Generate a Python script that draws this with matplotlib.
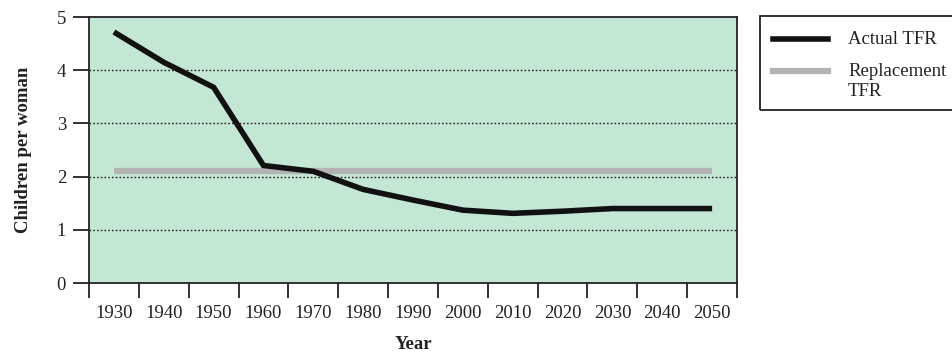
import matplotlib.pyplot as plt
from matplotlib.lines import Line2D
from matplotlib.patches import Rectangle

plt.rcParams['font.family'] = ['Liberation Serif', 'DejaVu Serif']

# Datos
years = ['1930', '1940', '1950', '1960', '1970', '1980', '1990',
         '2000', '2010', '2020', '2030', '2040', '2050']
actual_tfr = [4.72, 4.15, 3.68, 2.21, 2.10, 1.76, 1.56,
              1.37, 1.31, 1.35, 1.40, 1.40, 1.40]
replacement_tfr = [2.1] * len(years)

green_bg = '#c4e6d4'
gray = '#b3b3b3'
fs = 13.5

fig = plt.figure(figsize=(9.52, 3.56), dpi=100)
ax = fig.add_axes([0.0935, 0.205, 0.6807, 0.747])
ax.set_facecolor(green_bg)

x = list(range(len(years)))
ax.plot(x, replacement_tfr, color=gray, lw=4.5, solid_capstyle='butt', zorder=3)
ax.plot(x, actual_tfr, color='#111111', lw=4, solid_capstyle='butt',
        solid_joinstyle='miter', zorder=4)

# Ejes
ax.set_xlim(-0.5, len(years) - 0.5)
ax.set_ylim(0, 5)
ax.set_yticks([0, 1, 2, 3, 4, 5])
ax.set_xticks([i - 0.5 for i in range(len(years) + 1)])
ax.set_xticklabels([])
ax.set_xticks(x, minor=True)
ax.set_xticklabels(years, minor=True)
ax.tick_params(axis='x', which='major', direction='out', length=11, width=1.3, color='#222222')
ax.tick_params(axis='x', which='minor', length=0, pad=16, labelsize=fs, labelcolor='#222222')
ax.tick_params(axis='y', direction='out', length=11.5, width=1.3, pad=5,
               labelsize=fs, labelcolor='#222222', color='#222222')

for yv in [1, 2, 3, 4]:
    ax.axhline(yv, color='#222222', lw=1, ls=(0, (1.2, 1.5)), zorder=2)

for s in ax.spines.values():
    s.set_linewidth(1.3)
    s.set_color('#222222')

ax.set_xlabel('Year', fontsize=fs, fontweight='bold', labelpad=10, color='#222222')
ax.set_ylabel('Children per woman', fontsize=fs, fontweight='bold', labelpad=18, color='#222222')

# Leyenda manual
W, H = 952, 356
def fx(px):
    return px / W
def fy(py):
    return 1 - py / H

fig.patches.append(Rectangle((fx(760), fy(110)), fx(200), fy(16) - fy(110),
                             transform=fig.transFigure, fill=False,
                             edgecolor='#222222', lw=1.3))
fig.lines.append(Line2D([fx(773), fx(828)], [fy(39), fy(39)], transform=fig.transFigure,
                        color='#111111', lw=4))
fig.lines.append(Line2D([fx(773), fx(828)], [fy(71), fy(71)], transform=fig.transFigure,
                        color=gray, lw=4.5))
fig.text(fx(848), fy(39), 'Actual TFR', fontsize=fs, va='center', color='#222222')
fig.text(fx(848), fy(71), 'Replacement', fontsize=fs, va='center', color='#222222')
fig.text(fx(848), fy(91), 'TFR', fontsize=fs, va='center', color='#222222')

fig.savefig('out.png', dpi=100)
